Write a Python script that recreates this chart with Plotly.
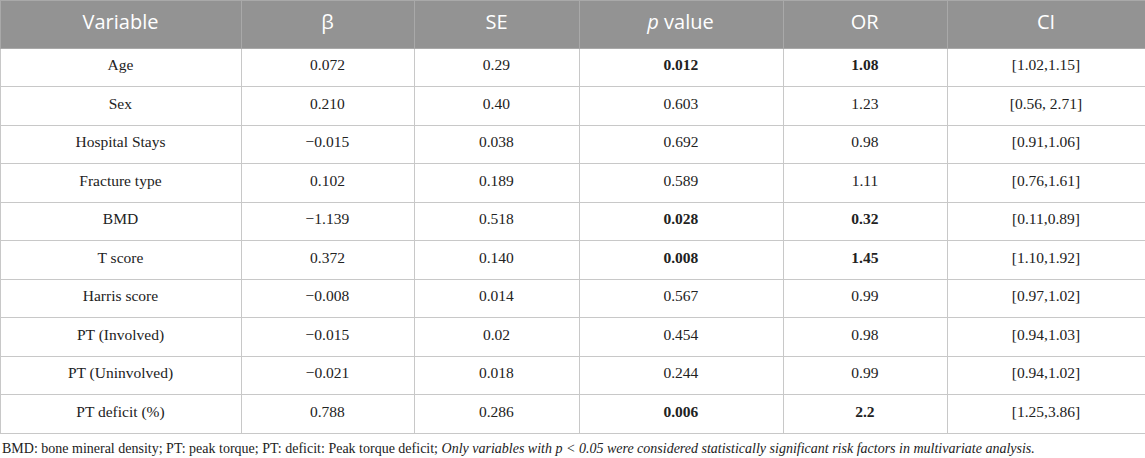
import plotly.graph_objects as go

# Table data
variables = ["Age", "Sex", "Hospital Stays", "Fracture type", "BMD", "T score",
             "Harris score", "PT (Involved)", "PT (Uninvolved)", "PT deficit (%)"]
beta = ["0.072", "0.210", "\u22120.015", "0.102", "\u22121.139", "0.372",
        "\u22120.008", "\u22120.015", "\u22120.021", "0.788"]
se = ["0.29", "0.40", "0.038", "0.189", "0.518", "0.140", "0.014", "0.02", "0.018", "0.286"]
p_values = ["0.012", "0.603", "0.692", "0.589", "0.028", "0.008", "0.567", "0.454", "0.244", "0.006"]
odds_ratio = ["1.08", "1.23", "0.98", "1.11", "0.32", "1.45", "0.99", "0.98", "0.99", "2.2"]
ci = ["[1.02,1.15]", "[0.56, 2.71]", "[0.91,1.06]", "[0.76,1.61]", "[0.11,0.89]",
      "[1.10,1.92]", "[0.97,1.02]", "[0.94,1.03]", "[0.94,1.02]", "[1.25,3.86]"]
headers = ["Variable", "\u03b2", "SE", "<i>p</i> value", "OR", "CI"]

footnote = ("BMD: bone mineral density; PT: peak torque; PT: deficit: Peak torque deficit; "
            "<i>Only variables with p < 0.05 were considered statistically significant "
            "risk factors in multivariate analysis.</i>")

# significant rows shown in bold
sig = [float(p) < 0.05 for p in p_values]
p_fmt = [f"<b>{p}</b>" if s else p for p, s in zip(p_values, sig)]
or_fmt = [f"<b>{o}</b>" if s else o for o, s in zip(odds_ratio, sig)]


# wrapping in a span sends the text through the rich-text path,
# which sits it lower in the cell (closer to the middle)
def span(col):
    return [f"<span>{v}</span>" for v in col]


fig = go.Figure(
    data=[
        go.Table(
            columnwidth=[241, 173, 165, 204, 164, 198],
            domain=dict(x=[0, 1], y=[0, 1]),
            header=dict(
                values=span(headers),
                align="center",
                fill_color="#939393",
                line=dict(color="#a9a9a9", width=1),
                font=dict(family="Open Sans", size=20, color="white"),
                height=48,
            ),
            cells=dict(
                values=[span(c) for c in [variables, beta, se, p_fmt, or_fmt, ci]],
                align="center",
                fill_color="white",
                line=dict(color="#c8c8c8", width=1),
                font=dict(family="Liberation Serif", size=15.5, color="#222222"),
                height=38.5,
            ),
        )
    ]
)

fig.add_annotation(
    text=footnote, x=0, y=0, xref="paper", yref="paper",
    xanchor="left", yanchor="bottom", showarrow=False,
    font=dict(family="Liberation Serif", size=14, color="#222222"),
)

fig.update_layout(
    width=1145, height=458,
    margin=dict(l=0, r=0, t=0, b=0),
    paper_bgcolor="white",
)

fig.write_html("out.html", config={"displayModeBar": False},
               post_script="document.body.style.margin='0';")
